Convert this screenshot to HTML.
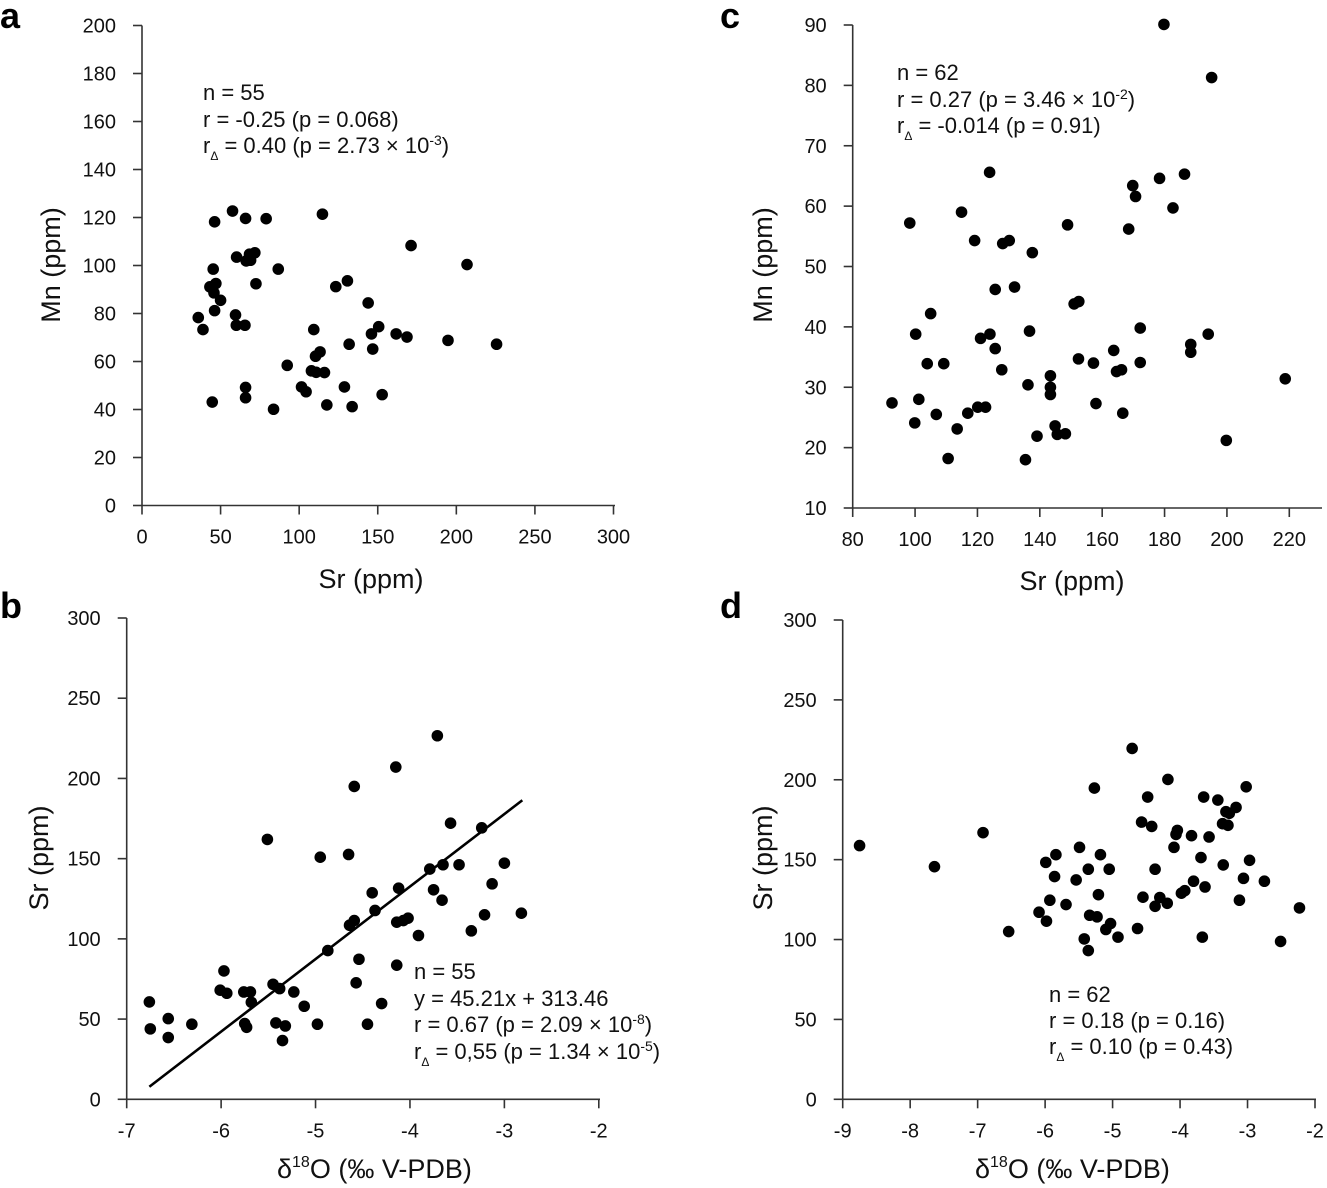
<!DOCTYPE html>
<html><head><meta charset="utf-8"><style>
html,body{margin:0;padding:0;background:#fff;}
svg{display:block;font-family:"Liberation Sans",Arial,sans-serif;}
.tk{font-size:20px;fill:#111;}
.at{font-size:27px;fill:#111;}
.an{font-size:22px;fill:#111;}
.pl{font-size:36px;font-weight:bold;fill:#000;}
</style></head><body>
<svg id="fig" width="1327" height="1188" viewBox="0 0 1327 1188"></svg>
<script>
// Panel a: Mn vs Sr
const aSr=[57.6,46.2,65.9,79.0,114.8,171.2,206.8,60.2,66.3,69.1,68.4,71.8,45.3,86.7,72.5,47.0,43.2,45.8,50.0,46.2,35.8,38.8,59.5,60.0,65.5,123.3,130.7,143.9,109.3,150.6,146.0,161.7,168.6,194.7,225.6,131.8,146.8,113.3,110.4,92.4,107.8,110.8,116.1,65.9,65.9,44.7,101.5,104.4,128.8,152.8,117.6,133.7,83.7];
const aMn=[122.7,118.2,119.6,119.5,121.4,108.3,100.4,103.5,101.9,102.2,104.7,105.3,98.5,98.5,92.4,92.5,91.1,88.6,85.5,81.2,78.3,73.3,79.4,75.1,75.1,91.2,93.6,84.4,73.3,74.5,71.5,71.5,70.2,68.8,67.2,67.2,65.2,64.0,62.2,58.4,56.1,55.5,55.4,49.2,44.9,43.1,49.4,47.4,49.4,46.2,41.9,41.2,40.1];
const aXTicks=[0,50,100,150,200,250,300];
const aYTicks=[0,20,40,60,80,100,120,140,160,180,200];
// Panel c: Mn vs Sr
const cSr=[179.8,195.1,123.9,186.4,178.4,169.8,170.7,182.7,114.9,98.3,148.9,168.5,119.1,128.1,130.2,137.6,131.9,125.7,105.0,151.0,152.5,172.2,194.0,100.2,124.0,121.0,136.7,125.7,188.4,188.4,163.7,152.4,157.2,172.2,103.9,109.2,127.8,164.6,166.2,143.4,136.2,143.4,143.4,218.7,92.6,101.2,106.8,116.9,120.1,122.6,158.0,166.6,99.9,113.5,144.9,145.6,148.2,139.1,199.8,110.6,135.4];
const cMn=[90.1,81.3,65.6,65.3,64.6,63.4,61.6,59.7,59.0,57.2,56.9,56.2,54.3,53.8,54.3,52.3,46.6,46.2,42.2,43.8,44.2,39.8,38.8,38.8,38.8,38.1,39.3,36.4,37.1,35.8,36.1,34.7,34.0,34.1,33.9,33.9,32.9,32.6,32.9,31.9,30.4,30.0,28.8,31.4,27.4,28.0,25.5,25.7,26.7,26.7,27.3,25.7,24.1,23.1,23.6,22.2,22.3,21.9,21.2,18.2,18.0];
const cXTicks=[80,100,120,140,160,180,200,220];
const cYTicks=[10,20,30,40,50,60,70,80,90];
// Panel b: Sr vs d18O
const bO=[-3.71,-4.15,-4.59,-5.51,-4.95,-4.65,-3.57,-3.24,-3.79,-3.65,-3.48,-3.00,-4.12,-4.40,-3.75,-3.13,-3.66,-4.37,-4.59,-4.64,-4.14,-4.07,-4.02,-3.21,-2.82,-3.91,-3.35,-4.87,-4.54,-4.14,-5.97,-4.57,-6.01,-5.94,-5.76,-5.69,-5.68,-5.45,-5.38,-5.23,-5.12,-4.30,-6.76,-6.56,-6.75,-6.56,-6.31,-5.75,-5.73,-5.42,-5.32,-5.35,-4.98,-4.45];
const bSr=[226.6,207.1,195.0,162.0,150.9,152.6,172.1,169.2,143.5,146.2,146.2,147.2,131.6,128.7,130.6,134.3,124.1,117.7,111.4,108.5,110.4,111.4,112.9,115.0,116.0,102.1,105.0,92.7,87.3,83.6,80.0,72.6,68.0,66.1,66.9,66.9,60.5,71.7,69.0,66.9,58.0,59.7,60.7,50.3,43.9,38.5,46.8,47.2,44.9,47.6,45.7,36.6,46.8,46.8];
const bFit=[45.21,313.46];
const bFitRange=[-6.76,-2.81];
const bXTicks=[-7,-6,-5,-4,-3,-2];
const bYTicks=[0,50,100,150,200,250,300];
// Panel d: Sr vs d18O
const dO=[-8.75,-7.64,-6.92,-6.54,-4.71,-4.18,-5.27,-3.02,-4.48,-3.65,-3.44,-3.17,-3.32,-3.27,-3.37,-3.29,-4.57,-4.42,-4.04,-4.06,-3.83,-3.57,-4.09,-3.69,-2.97,-3.36,-4.37,-3.06,-2.75,-3.80,-3.63,-3.93,-3.98,-3.12,-2.23,-2.51,-3.67,-4.55,-4.30,-4.37,-4.19,-4.63,-5.49,-5.18,-5.36,-5.05,-5.84,-5.99,-5.86,-5.54,-5.21,-5.93,-5.69,-6.09,-5.98,-5.34,-5.23,-5.03,-5.10,-4.92,-5.42,-5.36];
const dSr=[158.8,145.6,166.9,105.0,219.6,200.2,194.8,195.6,189.2,189.2,187.3,182.7,180.0,179.0,172.5,171.5,173.5,170.8,168.3,165.8,165.0,164.2,157.7,151.3,149.6,146.7,144.0,138.3,136.5,136.5,132.9,130.6,129.0,124.6,119.8,98.8,101.5,126.5,126.3,120.8,122.7,106.9,157.7,153.1,144.0,144.0,153.1,148.3,139.4,137.3,128.1,124.6,121.9,117.1,111.5,115.2,114.2,110.0,106.3,101.5,100.4,93.1];
const dXTicks=[-9,-8,-7,-6,-5,-4,-3,-2];
const dYTicks=[0,50,100,150,200,250,300];

const NS='http://www.w3.org/2000/svg';
const svg=document.getElementById('fig');
function mk(tag,attrs,parent,text){const e=document.createElementNS(NS,tag);for(const k in attrs)e.setAttribute(k,attrs[k]);if(text!==undefined)e.textContent=text;(parent||svg).appendChild(e);return e;}

function panel(id,P){
  const g=mk('g',{});
  
  
  const sx=v=>P.x0+(v-P.xmin)/(P.xmax-P.xmin)*(P.x1-P.x0);
  const sy=v=>P.y0-(v-P.ymin)/(P.ymax-P.ymin)*(P.y0-P.y1);
  const ya=mk('line',{x1:P.x0,y1:sy(P.ymax),x2:P.x0,y2:P.y0,stroke:'#333','stroke-width':1.6},g);
  
  
  const xa=mk('line',{x1:P.x0,y1:P.y0,x2:P.xend,y2:P.y0,stroke:'#333','stroke-width':1.6},g);
  
  
  P.yt.forEach(v=>{
    const y=sy(v);
    mk('line',{x1:P.x0-9,y1:y,x2:P.x0,y2:y,stroke:'#333','stroke-width':1.6},g);
    const t=mk('text',{x:P.x0-26,y:y+7,'text-anchor':'end',class:'tk'},g,String(v));
    
    
  });
  P.xt.forEach(v=>{
    const x=sx(v);
    mk('line',{x1:x,y1:P.y0,x2:x,y2:P.y0+9,stroke:'#333','stroke-width':1.6},g);
    const t=mk('text',{x:x,y:P.y0+38,'text-anchor':'middle',class:'tk'},g,String(v));
    
    
  });
  P.xs.forEach((v,i)=>{
    const c=mk('circle',{cx:sx(v),cy:sy(P.ys[i]),r:5.8,fill:'#000'},g);
    
    
  });
  if(P.fit){
    const [a,b]=P.fit;const [u,w]=P.fitRange;
    const l=mk('line',{x1:sx(u),y1:sy(a*u+b),x2:sx(w),y2:sy(a*w+b),stroke:'#000','stroke-width':2.6},g);
    
    
  }
  return g;
}

panel('a',{x0:142,x1:613.5,xend:615,y0:505.5,y1:25.5,xmin:0,xmax:300,ymin:0,ymax:200,xt:aXTicks,yt:aYTicks,xs:aSr,ys:aMn});
panel('c',{x0:852.7,x1:1289.3,xend:1322,y0:508,y1:25,xmin:80,xmax:220,ymin:10,ymax:90,xt:cXTicks,yt:cYTicks,xs:cSr,ys:cMn});
panel('b',{x0:126.7,x1:598.8,xend:600,y0:1099.3,y1:618,xmin:-7,xmax:-2,ymin:0,ymax:300,xt:bXTicks,yt:bYTicks,xs:bO,ys:bSr,fit:bFit,fitRange:bFitRange});
panel('d',{x0:842.7,x1:1315,xend:1316,y0:1099.3,y1:620,xmin:-9,xmax:-2,ymin:0,ymax:300,xt:dXTicks,yt:dYTicks,xs:dO,ys:dSr});

function txt(x,y,cls,html,name,anchor,rot){
  const t=mk('text',{x:x,y:y,class:cls,'text-anchor':anchor||'start'});
  if(rot)t.setAttribute('transform','rotate(-90 '+x+' '+y+')');
  t.innerHTML=html;
  
  
  return t;
}
// panel letters
txt(0,28,'pl','a','panel-label-a');
txt(720,28,'pl','c','panel-label-c');
txt(0,618,'pl','b','panel-label-b');
txt(720,618,'pl','d','panel-label-d');
// axis titles
txt(371,588,'at','Sr (ppm)','x-axis-title-a','middle');
txt(1072,590,'at','Sr (ppm)','x-axis-title-c','middle');
txt(277,1178,'at','δ<tspan font-size="16" dy="-11">18</tspan><tspan dy="11">O (‰ V-PDB)</tspan>','x-axis-title-b');
txt(975,1178,'at','δ<tspan font-size="16" dy="-11">18</tspan><tspan dy="11">O (‰ V-PDB)</tspan>','x-axis-title-d');
txt(60,265,'at','Mn (ppm)','y-axis-title-a','middle',true);
txt(772,265,'at','Mn (ppm)','y-axis-title-c','middle',true);
txt(48,858,'at','Sr (ppm)','y-axis-title-b','middle',true);
txt(772,858,'at','Sr (ppm)','y-axis-title-d','middle',true);
// annotations
const sub='<tspan font-size="12" dy="7">Δ</tspan><tspan dy="-7">';
txt(203,100,'an','n = 55','stats-n-a');
txt(203,127,'an','r = -0.25 (p = 0.068)','stats-r-a');
txt(203,153,'an','r'+sub+' = 0.40 (p = 2.73 × 10<tspan font-size="14" dy="-8">-3</tspan><tspan dy="8">)</tspan></tspan>','stats-rdelta-a');
txt(897,80,'an','n = 62','stats-n-c');
txt(897,107,'an','r = 0.27 (p = 3.46 × 10<tspan font-size="14" dy="-8">-2</tspan><tspan dy="8">)</tspan>','stats-r-c');
txt(897,133,'an','r'+sub+' = -0.014 (p = 0.91)</tspan>','stats-rdelta-c');
txt(414,979,'an','n = 55','stats-n-b');
txt(414,1006,'an','y = 45.21x + 313.46','stats-fit-b');
txt(414,1032,'an','r = 0.67 (p = 2.09 × 10<tspan font-size="14" dy="-8">-8</tspan><tspan dy="8">)</tspan>','stats-r-b');
txt(414,1059,'an','r'+sub+' = 0,55 (p = 1.34 × 10<tspan font-size="14" dy="-8">-5</tspan><tspan dy="8">)</tspan></tspan>','stats-rdelta-b');
txt(1049,1002,'an','n = 62','stats-n-d');
txt(1049,1028,'an','r = 0.18 (p = 0.16)','stats-r-d');
txt(1049,1054,'an','r'+sub+' = 0.10 (p = 0.43)</tspan>','stats-rdelta-d');
</script>
</body></html>
